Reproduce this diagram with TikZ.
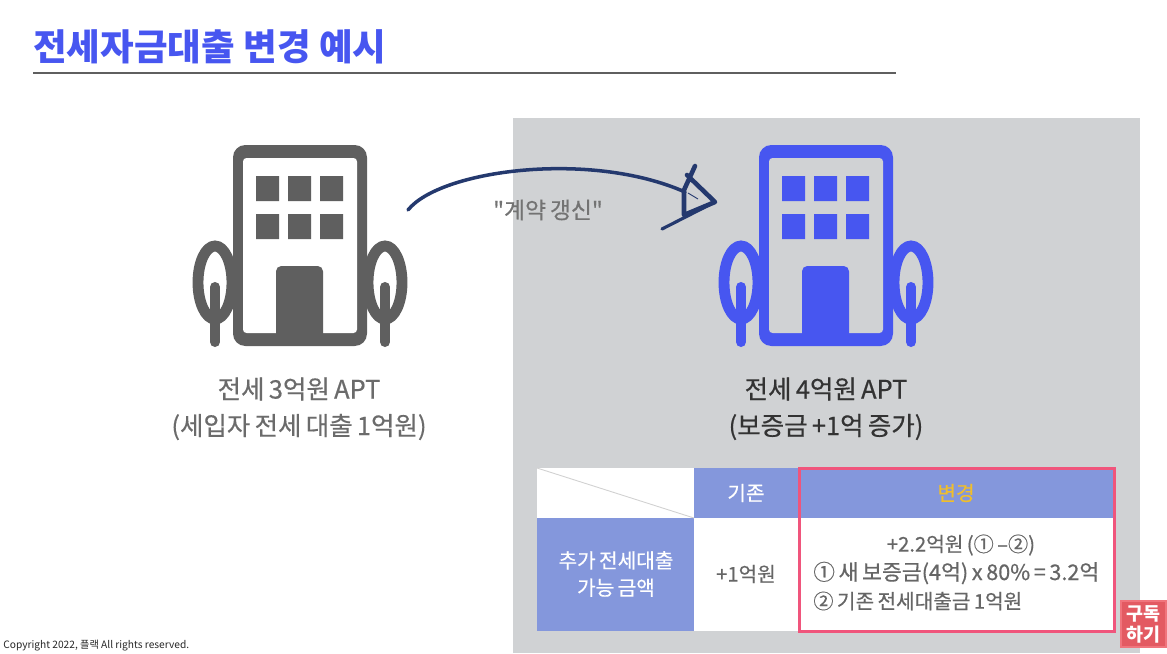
\documentclass[tikz,border=0pt]{standalone}
\usepackage{fontspec}
\setmainfont{Noto Sans CJK KR}
\newfontfamily\medfont[FakeBold=0.5,WordSpace=0.75]{Noto Sans CJK KR}
\definecolor{aptgray}{HTML}{5F5F5F}
\definecolor{aptblue}{HTML}{4756F0}
\definecolor{panelgray}{HTML}{D0D2D4}
\definecolor{headblue}{HTML}{8497DC}
\definecolor{framepink}{HTML}{F0557C}
\definecolor{inkblue}{HTML}{24396E}
\definecolor{changeyellow}{HTML}{F0BE2C}
\definecolor{badgered}{HTML}{E35A62}
\definecolor{badgeedge}{HTML}{F0747C}
\tikzset{
  pics/building/.style 2 args={code={
    \draw[#1,fill=#2,line width=6.2pt] (-18,137.5) ellipse [x radius=17, y radius=36.5];
    \draw[#1,fill=#2,line width=6.2pt] (152,137.5) ellipse [x radius=17, y radius=36.5];
    \draw[#1,line width=5.7pt,line cap=round] (-18,142) -- (-18,197);
    \draw[#1,line width=5.7pt,line cap=round] (152,142) -- (152,197);
    \fill[#1,rounded corners=7pt] (0,0) rectangle (134,201);
    \fill[#2,rounded corners=2pt] (10,13) rectangle (124,188);
    \fill[#1] (23,31) rectangle (46,56) (55,31) rectangle (78,56) (87,31) rectangle (110,56);
    \fill[#1] (23,69) rectangle (46,94) (55,69) rectangle (78,94) (87,69) rectangle (110,94);
    \fill[#1,rounded corners=3pt] (43,196) -- (43,121) -- (90,121) -- (90,196) -- cycle;
  }},
  caption/.style={font=\medfont\fontsize{14.5pt}{17pt}\selectfont,anchor=center},
  tabcell/.style={minimum height=#1,inner sep=0pt,align=center,font=\medfont\fontsize{11.5pt}{16.5pt}\selectfont,text=black!60},
  tabline/.style={anchor=west,inner sep=0pt,text=black!60},
}
\begin{document}
\begin{tikzpicture}[x=0.02cm,y=-0.02cm]
    \useasboundingbox (0,0) rectangle (1167,653);

    \fill[panelgray] (513,118) rectangle (1140,653);

    \node[anchor=west,inner sep=0pt,text=aptblue,font=\fontsize{20.8pt}{24pt}\selectfont\bfseries] (title) at (33,47) {전세자금대출 변경 예시};
    \draw[aptgray,line width=1.7pt] (33,73) -- (896,73);

    \pic at (233,145) {building={aptgray}{white}};
    \pic at (759,145) {building={aptblue}{panelgray}};

    \node[caption,text=black!58] (oldapt) at (299,389) {전세 3억원 APT};
    \node[caption,text=black!58] (oldloan) at (299,427) {(세입자 전세 대출 1억원)};
    \node[caption,text=black!80] (newapt) at (826,389) {전세 4억원 APT};
    \node[caption,text=black!80] (newdeposit) at (826,427) {(보증금 +1억 증가)};

    % table
    \fill[white] (537,468) rectangle (1113,631);
    \fill[headblue] (694,468) rectangle (1113,518);
    \fill[headblue] (537,518) rectangle (694,631);
    \draw[black!18,line width=0.5pt] (537,468) -- (694,518);

    \node[tabcell=0.8cm,text=white] (base) at (746,493) {기존};
    \node[tabcell=0.8cm,text=changeyellow] (change) at (956,493) {변경};
    \node[tabcell=1cm,text=white,font=\medfont\fontsize{11.5pt}{15.5pt}\selectfont] (rowhead) at (616,574) {추가 전세대출\\가능 금액};
    \node[tabcell=1cm] (oldvalue) at (746,574) {+1억원};
    \node[tabcell=0.5cm] (sumline) at (961,545) {+2.2억원 (① –②)};
    \node[tabline,font=\medfont\fontsize{12.3pt}{14pt}\selectfont] (newline) at (813,573) {① 새 보증금(4억) x 80\% = 3.2억};
    \node[tabline,font=\medfont\fontsize{11.5pt}{14pt}\selectfont] (oldline) at (813,601) {② 기존 전세대출금 1억원};

    \draw[framepink,line width=1.7pt] (799,468) rectangle (1114,631);

    % hand drawn arrow
    \coordinate (arrowstart) at (408,210);
    \coordinate (arrowend) at (685,192);
    \coordinate (tip) at (715,202);
    \draw[inkblue,line width=2pt,line cap=round] (arrowstart) .. controls (440,170) and (590,150) .. (arrowend);
    \draw[inkblue,line width=2.6pt,line cap=round,line join=round] (695,166) -- (684,190) -- (684,215) -- (tip) -- (687,175);
    \draw[inkblue,line width=1.8pt,line cap=round] (tip) -- (662,229);
    \draw[inkblue,line width=0.5pt] (688,193) -- (698,199);
    \node[text=black!55,font=\medfont\fontsize{13pt}{15pt}\selectfont] (renewal) at (548,210) {"계약 갱신"};

    \node[anchor=west,inner sep=0pt,text=black!85,font=\fontsize{5.8pt}{8pt}\selectfont] (copyright) at (3,646) {Copyright 2022, 플랙 All rights reserved.};

    \node[draw=badgeedge,line width=1.2pt,fill=badgered,text=white,inner sep=0pt,minimum width=0.9cm,minimum height=0.92cm,align=center,font=\fontsize{10.5pt}{12pt}\selectfont\bfseries] (subscribe) at (1143.5,624) {구독\\하기};
\end{tikzpicture}
\end{document}
